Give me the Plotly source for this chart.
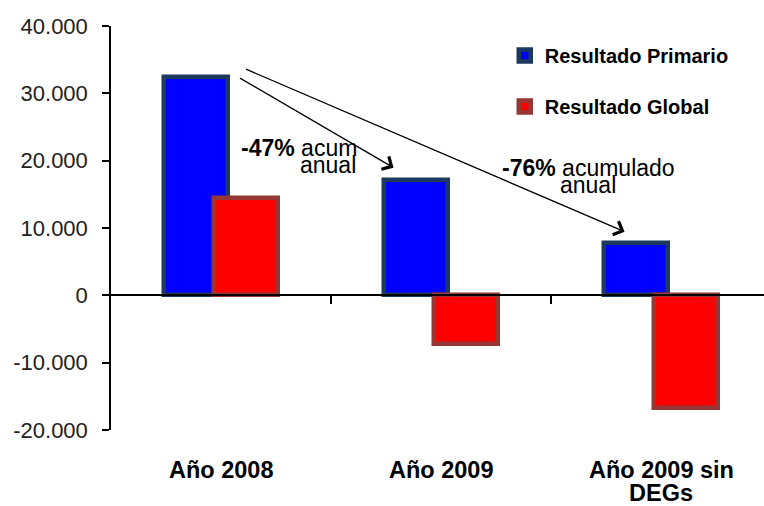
import plotly.graph_objects as go

# Fiscal results by period (millions)
categories = ["Año 2008", "Año 2009", "Año 2009 sin DEGs"]
category_labels = ["Año 2008", "Año 2009", "Año 2009 sin\nDEGs"]
resultado_primario = [32400, 17100, 7800]
resultado_global = [14400, -7200, -16800]

y_tickvals = [-20000, -10000, 0, 10000, 20000, 30000, 40000]
y_ticktext = ["-20.000", "-10.000", "0", "10.000", "20.000", "30.000", "40.000"]

FONT = "Liberation Sans, Arial, sans-serif"
X_RANGE = [-0.5, 2.468]

fig = go.Figure()

fig.add_trace(go.Bar(
    x=categories, y=resultado_primario, name="Resultado Primario",
    width=0.291, offset=-0.259, legendgroup="p",
    marker=dict(color="#0000FF", line=dict(color="#1B3A5E", width=4.5)),
))
fig.add_trace(go.Bar(
    x=categories, y=resultado_global, name="Resultado Global",
    width=0.291, offset=-0.032, legendgroup="g",
    marker=dict(color="#FF0000", line=dict(color="#953735", width=4.5)),
))
# empty trace that registers the zero-crossing axis
fig.add_trace(go.Scatter(x=[], y=[], xaxis="x2", showlegend=False, hoverinfo="skip"))

annotations = []
# category labels under the plot, one annotation per text line
for cat, label in zip(categories, category_labels):
    for i, line in enumerate(label.split("\n")):
        annotations.append(dict(
            x=cat, xref="x", y=-0.099 - i * 0.058, yref="paper",
            text=f"<b>{line}</b>", showarrow=False, xanchor="center", yanchor="middle",
            font=dict(family=FONT, size=23.5, color="#000000"),
        ))

# trend arrows
arrow_style = dict(xref="x", yref="y", axref="x", ayref="y", text="", showarrow=True,
                   arrowhead=4, arrowsize=2.2, arrowwidth=1.3, arrowcolor="#000000")
annotations.append(dict(x=0.784, y=18960, ax=0.0795, ay=32390, **arrow_style))
annotations.append(dict(x=1.834, y=9440, ax=0.107, ay=33680, **arrow_style))

# variation notes
note_font = dict(family=FONT, size=23, color="#000000")
annotations += [
    dict(x=0.083, y=21900, xref="x", yref="y", text="<b>-47%</b> acum", showarrow=False,
         xanchor="left", yanchor="middle", font=note_font),
    dict(x=0.352, y=19300, xref="x", yref="y", text="anual", showarrow=False,
         xanchor="left", yanchor="middle", font=note_font),
    dict(x=1.67, y=18900, xref="x", yref="y", text="<b>-76%</b> acumulado", showarrow=False,
         xanchor="center", yanchor="middle", font=note_font),
    dict(x=1.67, y=16350, xref="x", yref="y", text="anual", showarrow=False,
         xanchor="center", yanchor="middle", font=note_font),
]

fig.update_layout(
    width=764, height=506,
    margin=dict(l=111, r=0, t=26, b=76, autoexpand=False),
    paper_bgcolor="#FFFFFF", plot_bgcolor="#FFFFFF",
    barmode="overlay", bargap=0,
    font=dict(family=FONT, color="#000000"),
    showlegend=True,
    legend=dict(
        x=0.603, y=0.975, xanchor="left", yanchor="top",
        bgcolor="rgba(0,0,0,0)", tracegroupgap=22, traceorder="grouped",
        font=dict(family=FONT, size=20, color="#000000", weight="bold"),
        itemwidth=30,
    ),
    xaxis=dict(
        type="category", range=X_RANGE, showline=False, ticks="",
        showticklabels=False, showgrid=False, zeroline=False,
    ),
    xaxis2=dict(
        overlaying="x", anchor="free", position=1 / 3, range=X_RANGE,
        showline=True, linecolor="#000000", linewidth=1.5,
        ticks="outside", ticklen=8, tickwidth=1.5, tickcolor="#000000",
        tickvals=[0.5, 1.5], showticklabels=False, showgrid=False, zeroline=False,
    ),
    yaxis=dict(
        range=[-20000, 40000], tickvals=y_tickvals, ticktext=y_ticktext,
        showline=True, linecolor="#000000", linewidth=1.5,
        ticks="outside", ticklen=7, tickwidth=1.5, tickcolor="#000000",
        showgrid=False, zeroline=False, ticklabelstandoff=10,
        tickfont=dict(family=FONT, size=22, color="#222222"),
    ),
    annotations=annotations,
)

fig.write_html("out.html")
